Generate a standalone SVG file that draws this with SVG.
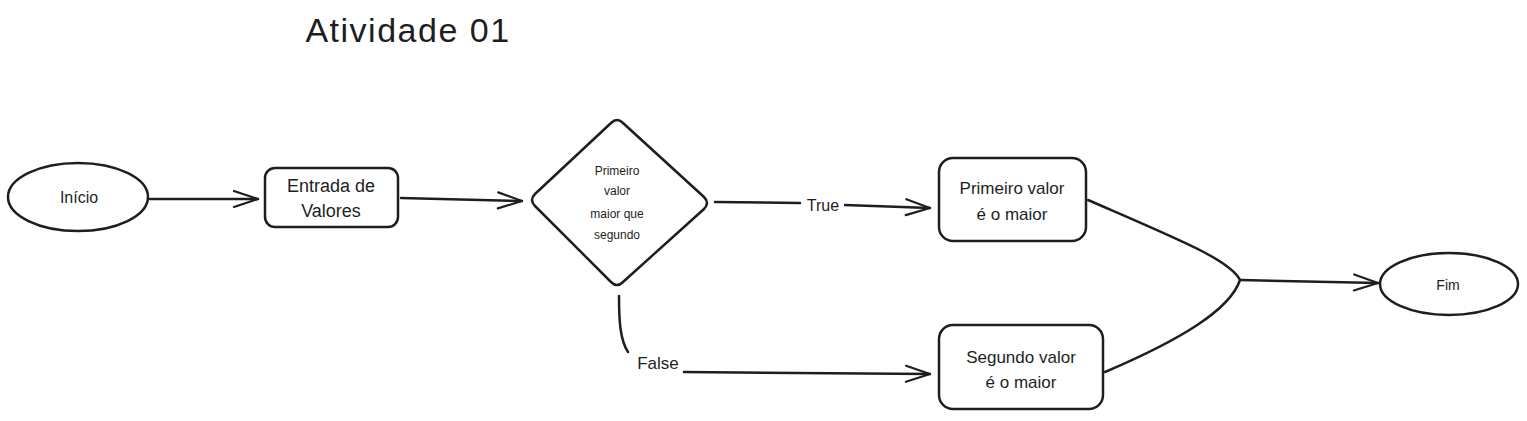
<svg xmlns="http://www.w3.org/2000/svg" width="1527" height="421" viewBox="0 0 1527 421">
<defs>
<marker id="ah" markerWidth="30" markerHeight="20" refX="26" refY="10" orient="auto" markerUnits="userSpaceOnUse">
<path d="M2,2 L26,10 L2,18" fill="none" stroke="#1e1e1e" stroke-width="2.2" stroke-linecap="round" stroke-linejoin="round"/>
</marker>
</defs>
<style>
.sh{fill:#fff;stroke:#1e1e1e;stroke-width:2.5}
.ln{fill:none;stroke:#1e1e1e;stroke-width:2.5;stroke-linecap:round}
.t{font-family:"Liberation Sans",Arial,sans-serif;fill:#1e1e1e;text-anchor:middle;dominant-baseline:central}
</style>
<rect width="1527" height="421" fill="#fff"/>
<text class="t" x="408" y="30" font-size="34" letter-spacing="1.5">Atividade 01</text>
<g id="connectors">
<line class="ln" x1="150" y1="199" x2="258" y2="199" stroke-width="3.5" marker-end="url(#ah)"/>
<line class="ln" x1="401" y1="198" x2="522" y2="201" marker-end="url(#ah)"/>
<line class="ln" x1="715" y1="202" x2="800" y2="203" stroke-width="3"/>
<line class="ln" x1="845" y1="205" x2="930" y2="208" stroke-width="3" marker-end="url(#ah)"/>
<path class="ln" d="M619,296 C619,320 620,340 628,352"/>
<path class="ln" d="M684,372 L930,374" marker-end="url(#ah)"/>
<path class="ln" d="M1088,200 C1180,240 1230,260 1240,280 C1230,310 1180,340 1105,372"/>
<line class="ln" x1="1240" y1="280" x2="1378" y2="283" marker-end="url(#ah)"/>
<text class="t" x="823" y="205" font-size="16">True</text>
<text class="t" x="658" y="363" font-size="17">False</text>
</g>
<g id="inicio">
<ellipse class="sh" cx="78" cy="197" rx="70" ry="34"/>
<text class="t" x="79" y="197" font-size="16">Início</text>
</g>
<g id="entrada">
<rect class="sh" x="265" y="168" width="133" height="59" rx="10"/>
<text class="t" x="331" y="186" font-size="18">Entrada de</text>
<text class="t" x="331" y="211" font-size="18">Valores</text>
</g>
<g id="decisao">
<path class="sh" d="M611,123 Q617,117 623,123 L704,197 Q710,203 704,209 L623,282 Q617,288 611,282 L535,206 Q529,200 535,194 Z"/>
<text class="t" x="617" y="171" font-size="12">Primeiro</text>
<text class="t" x="617" y="191" font-size="12">valor</text>
<text class="t" x="617" y="214" font-size="12">maior que</text>
<text class="t" x="617" y="235" font-size="12">segundo</text>
</g>
<g id="primeiro">
<rect class="sh" x="939" y="158" width="147" height="83" rx="14"/>
<text class="t" x="1012" y="188" font-size="17">Primeiro valor</text>
<text class="t" x="1012" y="214" font-size="17">é o maior</text>
</g>
<g id="segundo">
<rect class="sh" x="939" y="325" width="164" height="84" rx="14"/>
<text class="t" x="1021" y="357" font-size="17">Segundo valor</text>
<text class="t" x="1021" y="382" font-size="17">é o maior</text>
</g>
<g id="fim">
<ellipse class="sh" cx="1449" cy="284" rx="69" ry="31"/>
<text class="t" x="1448" y="285" font-size="14">Fim</text>
</g>
</svg>
